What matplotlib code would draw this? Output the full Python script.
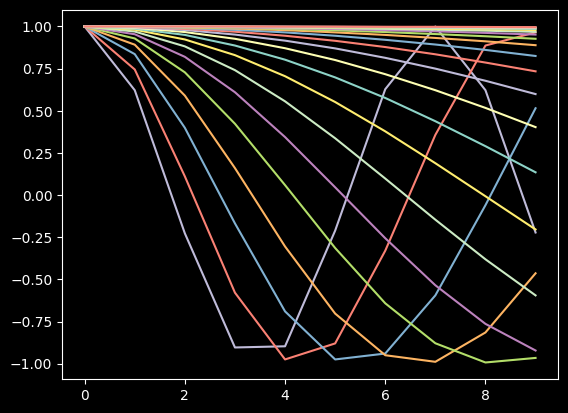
import matplotlib
matplotlib.use("Agg")
import matplotlib.pyplot as plt

# x positions shared by every curve
x = [0, 1, 2, 3, 4, 5, 6, 7, 8, 9]

# curve values, fastest oscillation first
series = [
    [1, 0.622, -0.227, -0.904, -0.897, -0.211, 0.628, 1.000, 0.622, -0.222],
    [1, 0.745, 0.111, -0.579, -0.975, -0.880, -0.330, 0.357, 0.887, 0.965],
    [1, 0.836, 0.399, -0.168, -0.690, -0.975, -0.940, -0.595, -0.060, 0.515],
    [1, 0.892, 0.590, 0.160, -0.305, -0.703, -0.950, -0.989, -0.815, -0.464],
    [1, 0.929, 0.728, 0.423, 0.059, -0.314, -0.642, -0.879, -0.993, -0.966],
    [1, 0.954, 0.820, 0.610, 0.344, 0.046, -0.256, -0.535, -0.764, -0.922],
    [1, 0.970, 0.882, 0.741, 0.556, 0.337, 0.098, -0.146, -0.381, -0.595],
    [1, 0.981, 0.923, 0.830, 0.705, 0.552, 0.378, 0.189, -0.007, -0.204],
    [1, 0.987, 0.950, 0.887, 0.803, 0.698, 0.576, 0.438, 0.290, 0.135],
    [1, 0.992, 0.967, 0.927, 0.871, 0.801, 0.717, 0.622, 0.517, 0.403],
    [1, 0.995, 0.979, 0.952, 0.916, 0.870, 0.814, 0.750, 0.678, 0.599],
    [1, 0.997, 0.986, 0.969, 0.945, 0.915, 0.878, 0.835, 0.786, 0.734],
    [1, 0.998, 0.991, 0.980, 0.965, 0.945, 0.921, 0.893, 0.861, 0.825],
    [1, 0.999, 0.994, 0.988, 0.978, 0.965, 0.950, 0.932, 0.912, 0.889],
    [1, 0.999, 0.996, 0.992, 0.985, 0.977, 0.967, 0.955, 0.942, 0.927],
    [1, 0.999, 0.998, 0.995, 0.990, 0.985, 0.978, 0.971, 0.962, 0.952],
    [1, 1.000, 0.998, 0.997, 0.994, 0.990, 0.986, 0.981, 0.975, 0.968],
    [1, 1.000, 0.999, 0.998, 0.996, 0.994, 0.991, 0.987, 0.983, 0.979],
    [1, 1.000, 0.999, 0.999, 0.997, 0.996, 0.994, 0.992, 0.989, 0.986],
    [1, 1.000, 1.000, 0.999, 0.998, 0.997, 0.996, 0.995, 0.993, 0.991],
    [1, 1.000, 1.000, 0.999, 0.999, 0.998, 0.997, 0.996, 0.995, 0.994],
    [1, 1.000, 1.000, 1.000, 0.999, 0.999, 0.998, 0.998, 0.997, 0.996],
]

plt.style.use('dark_background')

# colour cycle of the style, starting at its third colour
cycle = plt.rcParams['axes.prop_cycle'].by_key()['color']
cycle = cycle[2:] + cycle[:2]

fig, ax = plt.subplots(figsize=(6.4, 4.8), dpi=100)
for i, y in enumerate(series):
    ax.plot(x, y, color=cycle[i % len(cycle)])

plt.savefig('out.png', dpi=100, bbox_inches='tight')
